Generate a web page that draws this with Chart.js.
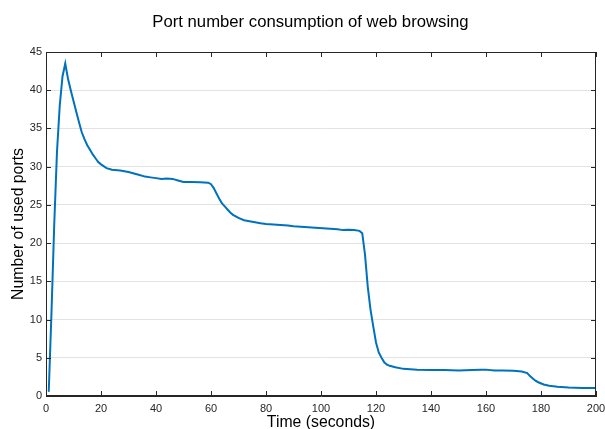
<!DOCTYPE html>
<html>
<head>
<meta charset="utf-8">
<script src="https://cdn.jsdelivr.net/npm/chart.js@4"></script>
<style>
html,body{margin:0;padding:0;background:#fff;}
#wrap{width:605px;height:429px;position:relative;}
</style>
</head>
<body>
<div id="wrap"><canvas id="c" width="605" height="429"></canvas></div>
<script>
const chartTitle = "Port number consumption of web browsing";
const xAxisTitle = "Time (seconds)";
const yAxisTitle = "Number of used ports";
const xTicks = [0, 20, 40, 60, 80, 100, 120, 140, 160, 180, 200];
const yTicks = [0, 5, 10, 15, 20, 25, 30, 35, 40, 45];

const times = [1, 2, 3, 4, 5, 6, 7, 8, 9, 10, 11, 12, 13, 14, 15, 16, 17, 18, 19, 20,
  22, 24, 27, 30, 32, 34, 36, 38, 40, 42, 44, 46, 48, 50, 53, 56, 59, 60, 61, 62,
  63, 64, 65, 66, 67, 68, 70, 72, 75, 78, 80, 84, 88, 90, 94, 98, 102, 106, 108, 110,
  112, 114, 115, 116, 117, 118, 119, 120, 121, 122, 123, 124, 125, 127, 130, 135, 140, 145, 150, 155,
  158, 160, 163, 166, 170, 173, 175, 176, 177, 178, 179, 181, 183, 186, 190, 195, 200];
const ports = [0.6, 11, 22.5, 32, 38, 41.8, 43.5, 41.5, 40, 38.6, 37.2, 35.8, 34.5, 33.6, 32.8, 32.2, 31.6, 31.1, 30.6, 30.3,
  29.8, 29.6, 29.5, 29.3, 29.1, 28.9, 28.7, 28.6, 28.5, 28.4, 28.45, 28.4, 28.2, 28.0, 28.0, 27.95, 27.9, 27.7, 27.2, 26.5,
  25.8, 25.2, 24.8, 24.4, 24.0, 23.7, 23.3, 23.0, 22.8, 22.6, 22.5, 22.4, 22.3, 22.2, 22.1, 22.0, 21.9, 21.8, 21.7, 21.75,
  21.7, 21.6, 21.3, 18.5, 14.3, 11.3, 9.1, 7.0, 5.7, 5.0, 4.4, 4.1, 3.95, 3.75, 3.55, 3.45, 3.4, 3.4, 3.35, 3.4,
  3.45, 3.45, 3.35, 3.35, 3.3, 3.2, 3.0, 2.6, 2.3, 2.0, 1.8, 1.5, 1.35, 1.2, 1.1, 1.05, 1.05];

const points = times.map((t, i) => ({x: t, y: ports[i]}));
const FONT = 'Liberation Sans, Arial, sans-serif';

const boxPlugin = {
  id: 'boxTicks',
  afterDraw(chart) {
    const {ctx, chartArea: a, scales} = chart;
    ctx.save();
    ctx.strokeStyle = '#262626';
    ctx.lineWidth = 1;
    ctx.strokeRect(a.left + 0.5, a.top + 0.5, a.right - a.left - 1, a.bottom - a.top - 1);
    const L = 5;
    ctx.beginPath();
    xTicks.forEach(v => {
      const px = Math.round(scales.x.getPixelForValue(v)) + 0.5;
      ctx.moveTo(px, a.bottom); ctx.lineTo(px, a.bottom - L);
      ctx.moveTo(px, a.top); ctx.lineTo(px, a.top + L);
    });
    yTicks.forEach(v => {
      const py = Math.round(scales.y.getPixelForValue(v)) + 0.5;
      ctx.moveTo(a.left, py); ctx.lineTo(a.left + L, py);
      ctx.moveTo(a.right, py); ctx.lineTo(a.right - L, py);
    });
    ctx.stroke();
    // chart title
    ctx.fillStyle = '#000';
    ctx.font = '16.7px ' + FONT;
    ctx.textAlign = 'center';
    ctx.textBaseline = 'alphabetic';
    ctx.fillText(chartTitle, 310.5, 27);
    ctx.restore();
  }
};

new Chart(document.getElementById('c'), {
  type: 'line',
  data: {
    datasets: [{
      data: points,
      borderColor: '#0072BD',
      backgroundColor: '#0072BD',
      borderWidth: 2,
      pointRadius: 0.6,
      pointBorderWidth: 0,
      pointHoverRadius: 0.6,
      tension: 0,
      fill: false
    }]
  },
  options: {
    responsive: false,
    animation: false,
    layout: {padding: {left: 0, right: 9, top: 52, bottom: 0}},
    plugins: {
      legend: {display: false},
      tooltip: {enabled: false},
      title: {display: false}
    },
    scales: {
      x: {
        type: 'linear',
        min: 0, max: 200,
        afterFit(s) { s.height = 33; s.paddingLeft = 0; s.paddingRight = 0; },
        afterBuildTicks(s) { s.ticks = xTicks.map(v => ({value: v})); },
        grid: {display: false, drawTicks: false},
        border: {display: true, color: '#262626'},
        ticks: {color: '#262626', padding: 6, maxRotation: 0,
          font: {family: FONT, size: 11}},
        title: {display: true, text: xAxisTitle, color: '#000',
          font: {family: FONT, size: 15.8},
          padding: {top: 0, bottom: -3}}
      },
      y: {
        type: 'linear',
        min: 0, max: 45,
        afterFit(s) { s.width = 46; s.paddingTop = 0; s.paddingBottom = 0; },
        afterBuildTicks(s) { s.ticks = yTicks.map(v => ({value: v})); },
        grid: {color: '#e3e3e3', lineWidth: 1, drawTicks: false},
        border: {display: true, color: '#262626'},
        ticks: {color: '#262626', padding: 4,
          font: {family: FONT, size: 11}},
        title: {display: true, text: yAxisTitle, color: '#000',
          font: {family: FONT, size: 15.8},
          padding: {top: 9, bottom: 0}}
      }
    }
  },
  plugins: [boxPlugin]
});
</script>
</body>
</html>
